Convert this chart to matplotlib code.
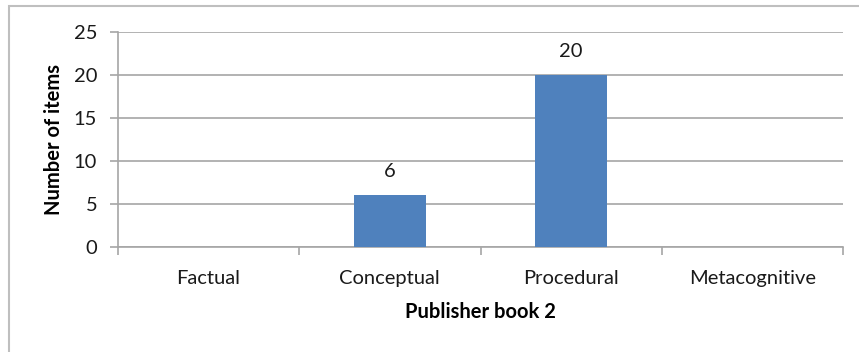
import matplotlib.pyplot as plt
from matplotlib.patches import Rectangle

# knowledge dimension counts for the second publisher's book
categories = ['Factual', 'Conceptual', 'Procedural', 'Metacognitive']
counts = [0, 6, 20, 0]
y_ticks = [0, 5, 10, 15, 20, 25]

plt.rcParams['font.family'] = ['Lato', 'DejaVu Sans']

W, H = 859, 352
fig = plt.figure(figsize=(W / 100, H / 100), dpi=100)

# chart frame (only top and left edges fall inside the image)
fig.patches.append(Rectangle((9 / W, -0.1), 1.2, 1 - 6 / H + 0.1,
                             transform=fig.transFigure, fill=False,
                             edgecolor='#bfbfbf', linewidth=1.5))

ax = fig.add_axes([118 / W, 1 - 246.5 / H, (843 - 118) / W, (246.5 - 32) / H])

fs = 14.5
x = list(range(len(categories)))
bars = ax.bar(x, counts, width=0.4, color='#4f81bd', zorder=3)
ax.bar_label(bars, labels=[str(c) if c else '' for c in counts],
             padding=11, fontsize=fs, color='#1a1a1a')

ax.set_xlim(-0.5, len(categories) - 0.5)
ax.set_ylim(0, 25)
ax.set_yticks(y_ticks)
ax.set_xticks(x)
ax.set_xticklabels(categories)
ax.set_xticks([i - 0.5 for i in range(len(categories) + 1)], minor=True)

grid_col = '#a6a6a6'
ax.yaxis.grid(True, color=grid_col, linewidth=1.2, zorder=0)
for side in ['top', 'right']:
    ax.spines[side].set_visible(False)
for side in ['left', 'bottom']:
    ax.spines[side].set_color(grid_col)
    ax.spines[side].set_linewidth(1.2)

ax.tick_params(axis='x', which='major', length=0, pad=17, labelsize=fs,
               labelcolor='#1a1a1a')
ax.tick_params(axis='x', which='minor', length=6, width=1.2, color=grid_col)
ax.tick_params(axis='y', length=6, width=1.2, color=grid_col, pad=9,
               labelsize=fs, labelcolor='#1a1a1a')

ax.set_xlabel('Publisher book 2', fontsize=fs, fontweight='bold', labelpad=11)
ax.set_ylabel('Number of items', fontsize=fs, fontweight='bold', labelpad=7)

fig.savefig('out.png', dpi=100, facecolor='white')
